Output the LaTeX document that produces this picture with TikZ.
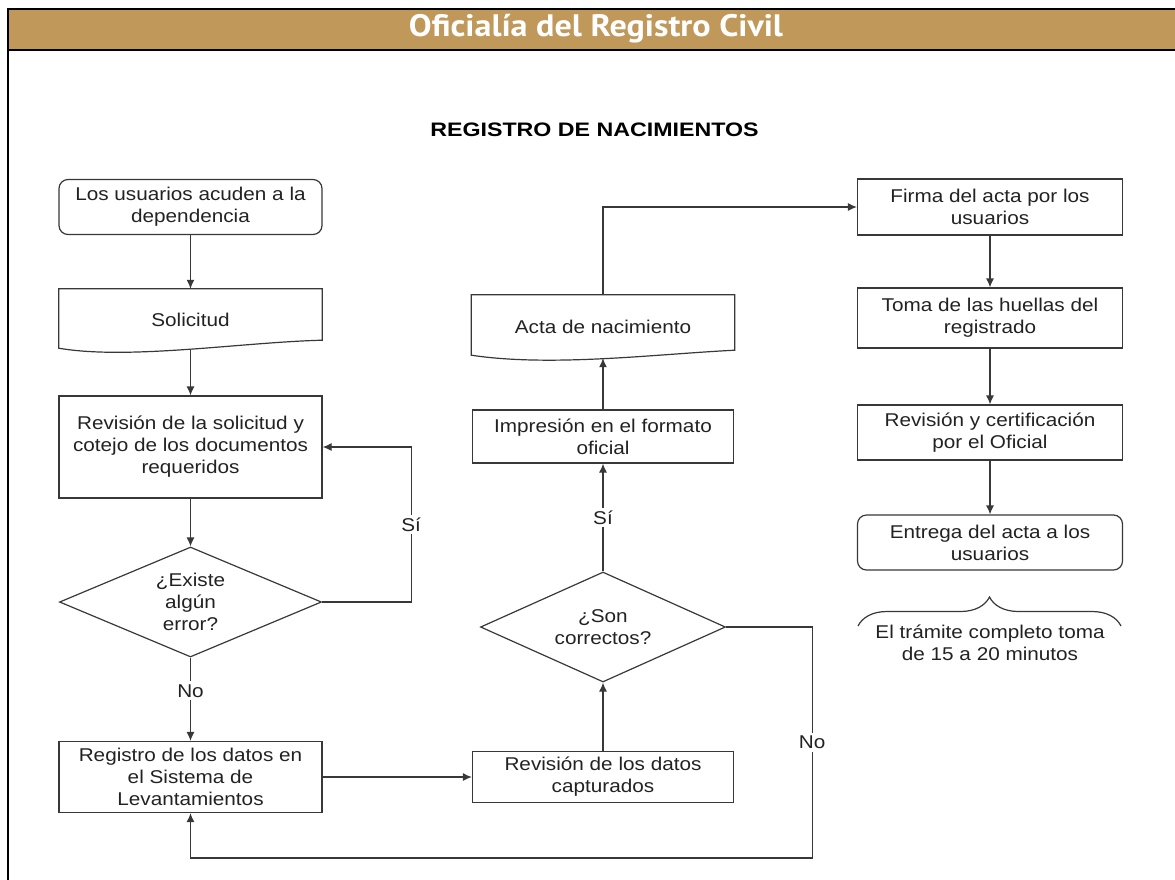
\documentclass[tikz,border=0pt]{standalone}
\usepackage{fontspec}
\setmainfont{Liberation Sans}[FakeStretch=1.12]
\newfontfamily\titlefont{Liberation Sans}[FakeStretch=1.19]
\newfontfamily\headfont{PT Sans}[FakeStretch=1.1]
\usetikzlibrary{shapes.geometric,arrows.meta,decorations.pathreplacing,calc}

\definecolor{headtan}{HTML}{C0985A}
\definecolor{linegray}{HTML}{383838}
\definecolor{txtgray}{HTML}{222222}

\tikzset{
  boxtext/.style={font=\fontsize{18.5}{22}\selectfont, text=txtgray, align=center},
  box/.style={boxtext, draw=linegray, line width=1.2pt, minimum width=263pt, inner sep=2pt},
  startbox/.style={box, rounded corners=9pt},
  docbox/.style={boxtext, minimum width=263pt, inner sep=2pt},
  docline/.style={draw=linegray, line width=1.2pt},
  ask/.style={boxtext, diamond, draw=linegray, line width=1.2pt, aspect=2.4, inner sep=0pt},
  flow/.style={draw=linegray, line width=1.2pt, -{Latex[length=9pt,width=8pt]}},
  plain/.style={draw=linegray, line width=1.2pt},
  tag/.style={boxtext, fill=white, inner sep=3pt}
}

\begin{document}
\begin{tikzpicture}[x=1pt,y=-1pt]
  \useasboundingbox (0,0) rectangle (1175,879);

  % cabecera
  \fill[headtan] (8,9) rectangle (1180,50);
  \draw[black, line width=2.5pt] (1180,9) -- (8,9) -- (8,885);
  \draw[black, line width=2.5pt] (8,50) -- (1180,50);
  \node[text=white, font=\headfont\bfseries\fontsize{31}{33}\selectfont] (cabecera) at (596,29) {Oficialía del Registro Civil};

  \node[font=\titlefont\bfseries\fontsize{19.5}{22}\selectfont, text=black] (titulo) at (594.5,130) {REGISTRO DE NACIMIENTOS};

  % columna izquierda
  \node[startbox, minimum height=55pt] (n_acuden) at (190.5,207) {Los usuarios acuden a la\\dependencia};
  \node[docbox, minimum height=61pt] (n_solicitud) at (190.5,319.5) {Solicitud};
  \draw[docline] (n_solicitud.north west) -- ($(n_solicitud.south west)+(0,-2)$)
    .. controls +(70,12) and +(-80,2) .. ($(n_solicitud.south east)+(0,-10)$)
    -- (n_solicitud.north east) -- cycle;
  \node[box, minimum height=102pt] (n_revision) at (190.5,447) {Revisión de la solicitud y\\cotejo de los documentos\\requeridos};
  \node[ask, minimum width=262pt, minimum height=110pt] (d_error) at (190.5,602) {¿Existe\\algún\\error?};
  \node[box, minimum height=71pt] (n_registro) at (190.5,777) {Registro de los datos en\\el Sistema de\\Levantamientos};

  % columna central
  \node[box, minimum width=261pt, minimum height=51pt] (n_revdatos) at (603,777) {Revisión de los datos\\capturados};
  \node[ask, minimum width=245pt, minimum height=110pt] (d_correctos) at (603,627) {¿Son\\correctos?};
  \node[box, minimum width=261pt, minimum height=53pt] (n_impresion) at (603,436.5) {Impresión en el formato\\oficial};
  \node[docbox, minimum height=63pt] (n_acta) at (603,326.5) {Acta de nacimiento};
  \draw[docline] (n_acta.north west) -- ($(n_acta.south west)+(0,-3)$)
    .. controls +(80,12) and +(-80,4) .. ($(n_acta.south east)+(0,-8)$)
    -- (n_acta.north east) -- cycle;

  % columna derecha
  \node[box, minimum width=265pt, minimum height=56pt] (n_firma) at (990,207) {Firma del acta por los\\usuarios};
  \node[box, minimum width=265pt, minimum height=60pt] (n_toma) at (990,318) {Toma de las huellas del\\registrado};
  \node[box, minimum width=265pt, minimum height=55pt] (n_revcert) at (990,432.5) {Revisión y certificación\\por el Oficial};
  \node[startbox, minimum width=265pt, minimum height=55pt] (n_entrega) at (990,542.5) {Entrega del acta a los\\usuarios};

  \coordinate (llave_izq) at (858,626);
  \coordinate (llave_der) at (1121,626);
  \draw[plain, decorate, decoration={brace, amplitude=29pt}] (llave_izq) -- (llave_der);
  \node[boxtext] (n_nota) at (990,643) {El trámite completo toma\\de 15 a 20 minutos};

  % conectores
  \draw[flow] (n_acuden.south) -- (n_solicitud.north);
  \draw[flow] (n_solicitud.south) -- (n_revision.north);
  \draw[flow] (n_revision.south) -- (d_error.north);
  \draw[flow] (d_error.east) -- ++(89,0) |- node[tag, pos=0.25] {Sí} (n_revision.east);
  \draw[flow] (d_error.south) -- node[tag, pos=0.4] {No} (n_registro.north);
  \draw[flow] (n_registro.east) -- (n_revdatos.west);
  \draw[flow] (n_revdatos.north) -- (d_correctos.south);
  \draw[flow] (d_correctos.north) -- node[tag] {Sí} (n_impresion.south);
  \draw[flow] (n_impresion.north) -- (n_acta.south);
  \draw[flow] (n_acta.north) |- (n_firma.west);
  \draw[flow] (n_firma.south) -- (n_toma.north);
  \draw[flow] (n_toma.south) -- (n_revcert.north);
  \draw[flow] (n_revcert.south) -- (n_entrega.north);
  \draw[flow] (d_correctos.east) -- ++(86,0) -- node[tag] {No} ++(0,231) -| (n_registro.south);
\end{tikzpicture}
\end{document}
